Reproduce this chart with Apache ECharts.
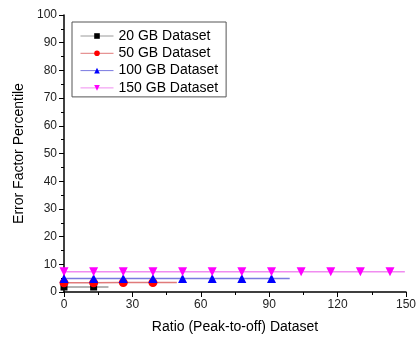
<!DOCTYPE html>
<html><head><meta charset="utf-8">
<script src="https://cdn.jsdelivr.net/npm/echarts@6/dist/echarts.min.js"></script>
<style>html,body{margin:0;padding:0;background:#fff}#c{width:419px;height:339px}</style>
</head><body><div id="c"></div>
<script>
const seriesNames = ['20 GB Dataset', '50 GB Dataset', '100 GB Dataset', '150 GB Dataset'];
const x20 = [0, 13];
const y20 = [1.8, 1.8];
const x50 = [0, 13, 26, 39];
const y50 = [3.3, 3.3, 3.4, 3.4];
const x100 = [0, 13, 26, 39, 52, 65, 78, 91];
const y100 = [4.9, 4.9, 4.9, 4.9, 4.9, 4.9, 4.9, 4.9];
const x150 = [0, 13, 26, 39, 52, 65, 78, 91, 104, 117, 130, 143];
const y150 = [7.3, 7.3, 7.3, 7.3, 7.3, 7.3, 7.3, 7.3, 7.3, 7.3, 7.3, 7.3];
const lineEnds = [19.5, 49.5, 99, 149.5];
const markerColors = ['#000000', '#ff0000', '#0000ff', '#ff00ff'];
const lineColors = ['#9a9a9a', '#e07a7a', '#7a7ae0', '#f08cf0'];
const symbols = ['rect', 'circle', 'triangle', 'triangle'];
const rotations = [0, 0, 0, 180];
const xs = [x20, x50, x100, x150];
const ys = [y20, y50, y100, y150];

const series = seriesNames.map((name, i) => {
  const data = xs[i].map((x, j) => [x, ys[i][j]]);
  const last = ys[i][ys[i].length - 1];
  data.push({ value: [lineEnds[i], last], symbol: 'none' });
  return {
    name, type: 'line', data,
    symbol: symbols[i], symbolSize: i === 0 ? 7 : 9, symbolRotate: rotations[i],
    showAllSymbol: true,
    itemStyle: { color: markerColors[i] },
    lineStyle: { color: lineColors[i], width: 1.5 },
    emphasis: { disabled: true },
    animation: false
  };
});

const chart = echarts.init(document.getElementById('c'));
chart.setOption({
  animation: false,
  grid: { left: 64, right: 12, top: 15, bottom: 47 },
  legend: {
    orient: 'vertical', left: 72, top: 22,
    padding: [7, 8, 2, 8],
    itemWidth: 33, itemHeight: 7, itemGap: 3.3,
    borderColor: '#555', borderWidth: 1,
    textStyle: { fontFamily: 'Liberation Sans, Arial', fontSize: 14, color: '#000', lineHeight: 14 },
    data: seriesNames.map((n, i) => ({ name: n, lineStyle: { color: lineColors[i], width: 1 } }))
  },
  xAxis: {
    type: 'value', min: 0, max: 150, interval: 30,
    name: 'Ratio (Peak-to-off) Dataset', nameLocation: 'middle', nameGap: 28,
    nameTextStyle: { fontFamily: 'Liberation Sans, Arial', fontSize: 14, color: '#000' },
    axisLine: { lineStyle: { color: '#000', width: 1.5 } },
    axisTick: { inside: false, length: 5, lineStyle: { color: '#000' } },
    minorTick: { show: true, splitNumber: 2, length: 3, lineStyle: { color: '#000' } },
    axisLabel: { fontFamily: 'Liberation Sans, Arial', fontSize: 12, color: '#222', margin: 7 },
    splitLine: { show: false }
  },
  yAxis: {
    type: 'value', min: 0, max: 100, interval: 10,
    name: 'Error Factor Percentile', nameLocation: 'middle', nameGap: 33,
    nameTextStyle: { fontFamily: 'Liberation Sans, Arial', fontSize: 14, color: '#000' },
    axisLine: { show: true, lineStyle: { color: '#000', width: 1.5 } },
    axisTick: { show: true, inside: false, length: 5, lineStyle: { color: '#000' } },
    minorTick: { show: true, splitNumber: 2, length: 3, lineStyle: { color: '#000' } },
    axisLabel: { fontFamily: 'Liberation Sans, Arial', fontSize: 12, color: '#222', margin: 7 },
    splitLine: { show: false }
  },
  series
});
</script></body></html>
